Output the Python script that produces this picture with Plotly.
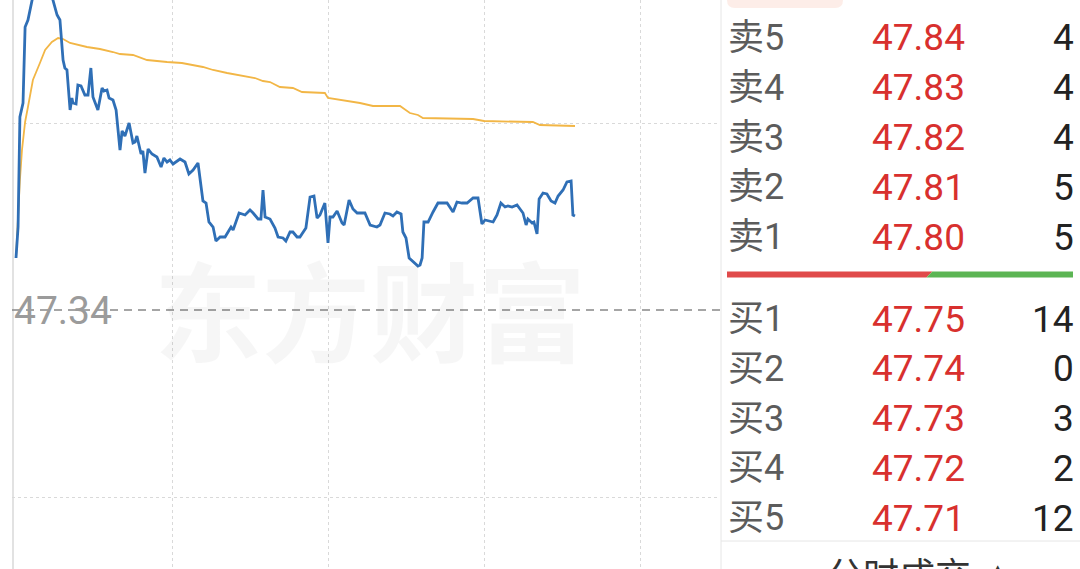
import plotly.graph_objects as go

W, H = 1080, 569

# ---------------- data ----------------
prev_close = 47.34
grid_step = 0.935

minutes = [0, 0.8, 1.5, 2.7, 3.5, 4.6, 6.2, 8.5, 10.8, 13.1, 14.2, 15.8, 16.9, 17.7, 18.1, 18.8, 19.6,
           20.8, 21.5, 21.9, 23.1, 23.8, 25.0, 26.5, 27.7, 28.8, 29.6, 31.5, 33.1, 33.8, 35.0, 35.8,
           37.3, 38.5, 40.0, 40.8, 41.9, 43.5, 45.0, 45.8, 46.5, 48.1, 48.8, 49.6, 50.8, 52.3, 54.2,
           55.8, 56.9, 58.1, 59.2, 60.4, 63.1, 65.0, 66.5, 68.1, 70.0, 71.9, 73.1, 74.2, 75.8, 76.9,
           78.5, 80.4, 82.7, 83.5, 85.8, 88.1, 90.0, 91.2, 93.1, 94.2, 95.0, 95.8, 97.7, 99.6, 100.8,
           102.7, 103.8, 105.4, 106.5, 108.1, 109.2, 111.5, 113.1, 114.6, 115.8, 116.9, 118.8, 120.0,
           120.8, 121.9, 123.5, 125.4, 126.2, 128.1, 129.6, 131.2, 134.2, 136.2, 138.8, 140.0, 141.9,
           143.8, 145.0, 146.5, 148.1, 148.8, 150.0, 151.2, 152.7, 154.6, 155.4, 156.2, 156.9, 158.5,
           160.4, 162.3, 165.8, 168.1, 169.6, 171.5, 173.5, 175.8, 177.7, 179.2, 180.4, 183.5, 185.0,
           186.5, 188.1, 189.2, 190.8, 192.7, 195.0, 196.2, 196.9, 198.5, 199.2, 200.4, 201.2, 202.7,
           204.2, 205.8, 207.3, 208.5, 210.4, 211.9, 213.5, 214.2, 215.0]
price = [47.60, 47.755, 48.305, 48.375, 48.755, 48.79, 48.89, 48.99, 49.05, 48.98, 48.89, 48.815, 48.79,
         48.675, 48.59, 48.55, 48.54, 48.34, 48.40, 48.375, 48.37, 48.465, 48.46, 48.415, 48.415, 48.55,
         48.405, 48.34, 48.45, 48.435, 48.44, 48.40, 48.39, 48.34, 48.14, 48.235, 48.21, 48.275, 48.175,
         48.18, 48.21, 48.12, 48.135, 48.025, 48.145, 48.12, 48.105, 48.055, 48.10, 48.08, 48.09, 48.07,
         48.095, 48.08, 48.02, 48.04, 48.075, 47.885, 47.875, 47.78, 47.755, 47.685, 47.705, 47.705,
         47.755, 47.74, 47.825, 47.815, 47.84, 47.825, 47.795, 47.795, 47.94, 47.805, 47.795, 47.75,
         47.705, 47.70, 47.685, 47.73, 47.73, 47.705, 47.705, 47.75, 47.905, 47.91, 47.80, 47.815,
         47.875, 47.675, 47.805, 47.805, 47.835, 47.775, 47.765, 47.89, 47.845, 47.825, 47.825, 47.765,
         47.755, 47.765, 47.825, 47.82, 47.81, 47.83, 47.82, 47.73, 47.70, 47.60, 47.58, 47.56, 47.565,
         47.60, 47.78, 47.78, 47.83, 47.875, 47.875, 47.83, 47.88, 47.875, 47.875, 47.90, 47.90, 47.77,
         47.79, 47.78, 47.815, 47.875, 47.855, 47.86, 47.855, 47.865, 47.825, 47.765, 47.795, 47.775,
         47.78, 47.72, 47.895, 47.925, 47.92, 47.885, 47.875, 47.91, 47.94, 47.98, 47.985, 47.815, 47.81]

avg_minutes = [0, 0.8, 1.5, 2.3, 3.5, 4.6, 6.5, 9.2, 11.2, 13.8, 16.2, 18.1, 20.8, 27.3, 32.3, 37.3, 40.0,
               45.0, 50.4, 58.1, 63.8, 71.9, 75.8, 81.2, 88.8, 91.9, 95.0, 97.7, 101.5, 106.5, 110.0,
               118.8, 120.0, 127.3, 132.3, 137.3, 147.7, 151.5, 154.6, 156.5, 175.8, 180.0, 198.8, 201.5,
               215.0]
avg_price = [47.60, 47.815, 47.99, 48.14, 48.28, 48.355, 48.49, 48.575, 48.64, 48.68, 48.70, 48.695,
             48.675, 48.655, 48.645, 48.63, 48.62, 48.615, 48.59, 48.58, 48.575, 48.555, 48.54, 48.525,
             48.505, 48.50, 48.485, 48.48, 48.455, 48.45, 48.43, 48.425, 48.40, 48.385, 48.375, 48.36,
             48.36, 48.325, 48.315, 48.30, 48.295, 48.285, 48.28, 48.265, 48.26]

hour_ticks = [60, 120, 180, 240]

ask_labels = ["卖5", "卖4", "卖3", "卖2", "卖1"]
ask_prices = ["47.84", "47.83", "47.82", "47.81", "47.80"]
ask_vols = [4, 4, 4, 5, 5]
bid_labels = ["买1", "买2", "买3", "买4", "买5"]
bid_prices = ["47.75", "47.74", "47.73", "47.72", "47.71"]
bid_vols = [14, 0, 3, 2, 12]

watermark = "东方财富"
footer_text = "分时成交"

# ---------------- helpers ----------------
def px(x):
    return x / W

def py(y):
    return 1 - y / H

X0_PX, X1_PX = 12, 720
PX_PER_MIN = 2.6
MIN0_PX = 16
x_range = [(X0_PX - MIN0_PX) / PX_PER_MIN, (X1_PX - MIN0_PX) / PX_PER_MIN]
PRICE_PER_PX = 0.005
PC_PX = 310
y_range = [prev_close - (H - PC_PX) * PRICE_PER_PX, prev_close + PC_PX * PRICE_PER_PX]

fig = go.Figure()

fig.add_trace(go.Scatter(x=avg_minutes, y=avg_price, mode="lines",
                         line=dict(color="#f2b646", width=1.8), hoverinfo="skip"))
fig.add_trace(go.Scatter(x=minutes, y=price, mode="lines",
                         line=dict(color="#2f6fb6", width=2.8), hoverinfo="skip"))

fig.update_layout(
    width=W, height=H, margin=dict(l=0, r=0, t=0, b=0),
    paper_bgcolor="white", plot_bgcolor="white", showlegend=False,
    xaxis=dict(domain=[px(X0_PX), px(X1_PX)], range=x_range, tickvals=hour_ticks,
               showticklabels=False, showgrid=True, gridcolor="#d9d9d9", griddash="dot",
               gridwidth=1, zeroline=False, showline=False, fixedrange=True),
    yaxis=dict(domain=[0, 1], range=y_range,
               tickvals=[prev_close + grid_step, prev_close - grid_step],
               showticklabels=False, showgrid=True, gridcolor="#d9d9d9", griddash="dot",
               gridwidth=1, zeroline=False, showline=False, fixedrange=True),
)

shapes = []
# left border of the chart
shapes.append(dict(type="line", xref="paper", yref="paper", x0=px(13), x1=px(13), y0=0, y1=1,
                   line=dict(color="#e2e2e2", width=2), layer="below"))
# previous-close dashed line
shapes.append(dict(type="line", xref="paper", yref="y", x0=px(X0_PX), x1=px(X1_PX),
                   y0=prev_close, y1=prev_close, line=dict(color="#888888", width=1.5, dash="8px,6px"),
                   layer="above"))
# order-book panel left border
shapes.append(dict(type="line", xref="paper", yref="paper", x0=px(721), x1=px(721), y0=0, y1=1,
                   line=dict(color="#e6e6e6", width=1)))
# footer separator
shapes.append(dict(type="line", xref="paper", yref="paper", x0=px(721), x1=1, y0=py(541), y1=py(541),
                   line=dict(color="#e6e6e6", width=1)))
# pink tab at top
r = 8
tab = (f"M {px(727)},{py(-10)} L {px(727)},{py(8 - r)} Q {px(727)},{py(8)} {px(727 + r)},{py(8)} "
       f"L {px(843 - r)},{py(8)} Q {px(843)},{py(8)} {px(843)},{py(8 - r)} L {px(843)},{py(-10)} Z")
shapes.append(dict(type="path", xref="paper", yref="paper", path=tab,
                   fillcolor="#fdede8", line=dict(width=0)))
# buy/sell ratio bar
buy_total = sum(bid_vols)
sell_total = sum(ask_vols)
bx0, bx1 = 727, 1073
split = bx0 + (bx1 - bx0) * buy_total / (buy_total + sell_total)
by0, by1 = 271.5, 277.5
red = (f"M {px(bx0)},{py(by0)} L {px(split + 3)},{py(by0)} L {px(split - 3)},{py(by1)} "
       f"L {px(bx0)},{py(by1)} Z")
green = (f"M {px(split + 3)},{py(by0)} L {px(bx1)},{py(by0)} L {px(bx1)},{py(by1)} "
         f"L {px(split - 3)},{py(by1)} Z")
shapes.append(dict(type="path", xref="paper", yref="paper", path=red, fillcolor="#e04a4a",
                   line=dict(width=0)))
shapes.append(dict(type="path", xref="paper", yref="paper", path=green, fillcolor="#5cb554",
                   line=dict(width=0)))

annotations = []
# watermark
annotations.append(dict(text=watermark, xref="paper", yref="paper", x=px(370), y=py(307),
                        xanchor="center", yanchor="middle", showarrow=False,
                        font=dict(family="Noto Sans CJK SC", size=108, weight=700,
                                  color="rgba(0,0,0,0.035)")))
# prev close label
annotations.append(dict(text=f"{prev_close:.2f}", xref="paper", yref="y", x=px(12), y=prev_close,
                        xanchor="left", yanchor="middle", showarrow=False, yshift=-1,
                        font=dict(family="Roboto", size=39, color="#9b9b9b")))

NUM_FONT = "Roboto, Noto Sans CJK SC"
ROW_GAP = 49.8
rows = []
for i in range(5):
    rows.append((38 + ROW_GAP * i, ask_labels[i], ask_prices[i], ask_vols[i]))
for i in range(5):
    rows.append((319 + ROW_GAP * i, bid_labels[i], bid_prices[i], bid_vols[i]))

for yc, lab, pr, vol in rows:
    annotations.append(dict(text=lab, xref="paper", yref="paper", x=px(726), y=py(yc),
                            xanchor="left", yanchor="middle", showarrow=False,
                            font=dict(family=NUM_FONT, size=36, color="#5c5c5c")))
    annotations.append(dict(text=pr, xref="paper", yref="paper", x=px(870), y=py(yc),
                            xanchor="left", yanchor="middle", showarrow=False,
                            font=dict(family=NUM_FONT, size=37, color="#d8302e")))
    annotations.append(dict(text=str(vol), xref="paper", yref="paper", x=px(1076), y=py(yc),
                            xanchor="right", yanchor="middle", showarrow=False,
                            font=dict(family=NUM_FONT, size=37, color="#222222")))

# footer (cut by the bottom edge, as in the reference)
annotations.append(dict(text=footer_text, xref="paper", yref="paper", x=px(825), y=py(573),
                        xanchor="left", yanchor="middle", showarrow=False,
                        font=dict(family="Noto Sans CJK SC", size=36, color="#333333")))
annotations.append(dict(text="▲", xref="paper", yref="paper", x=px(998), y=py(571),
                        xanchor="center", yanchor="middle", showarrow=False,
                        font=dict(family="DejaVu Sans", size=20, color="#333333")))

fig.update_layout(shapes=shapes, annotations=annotations)

fig.write_html("out.html", config={"displayModeBar": False, "staticPlot": True},
               post_script="document.body.style.margin='0';document.body.style.overflow='hidden';")
